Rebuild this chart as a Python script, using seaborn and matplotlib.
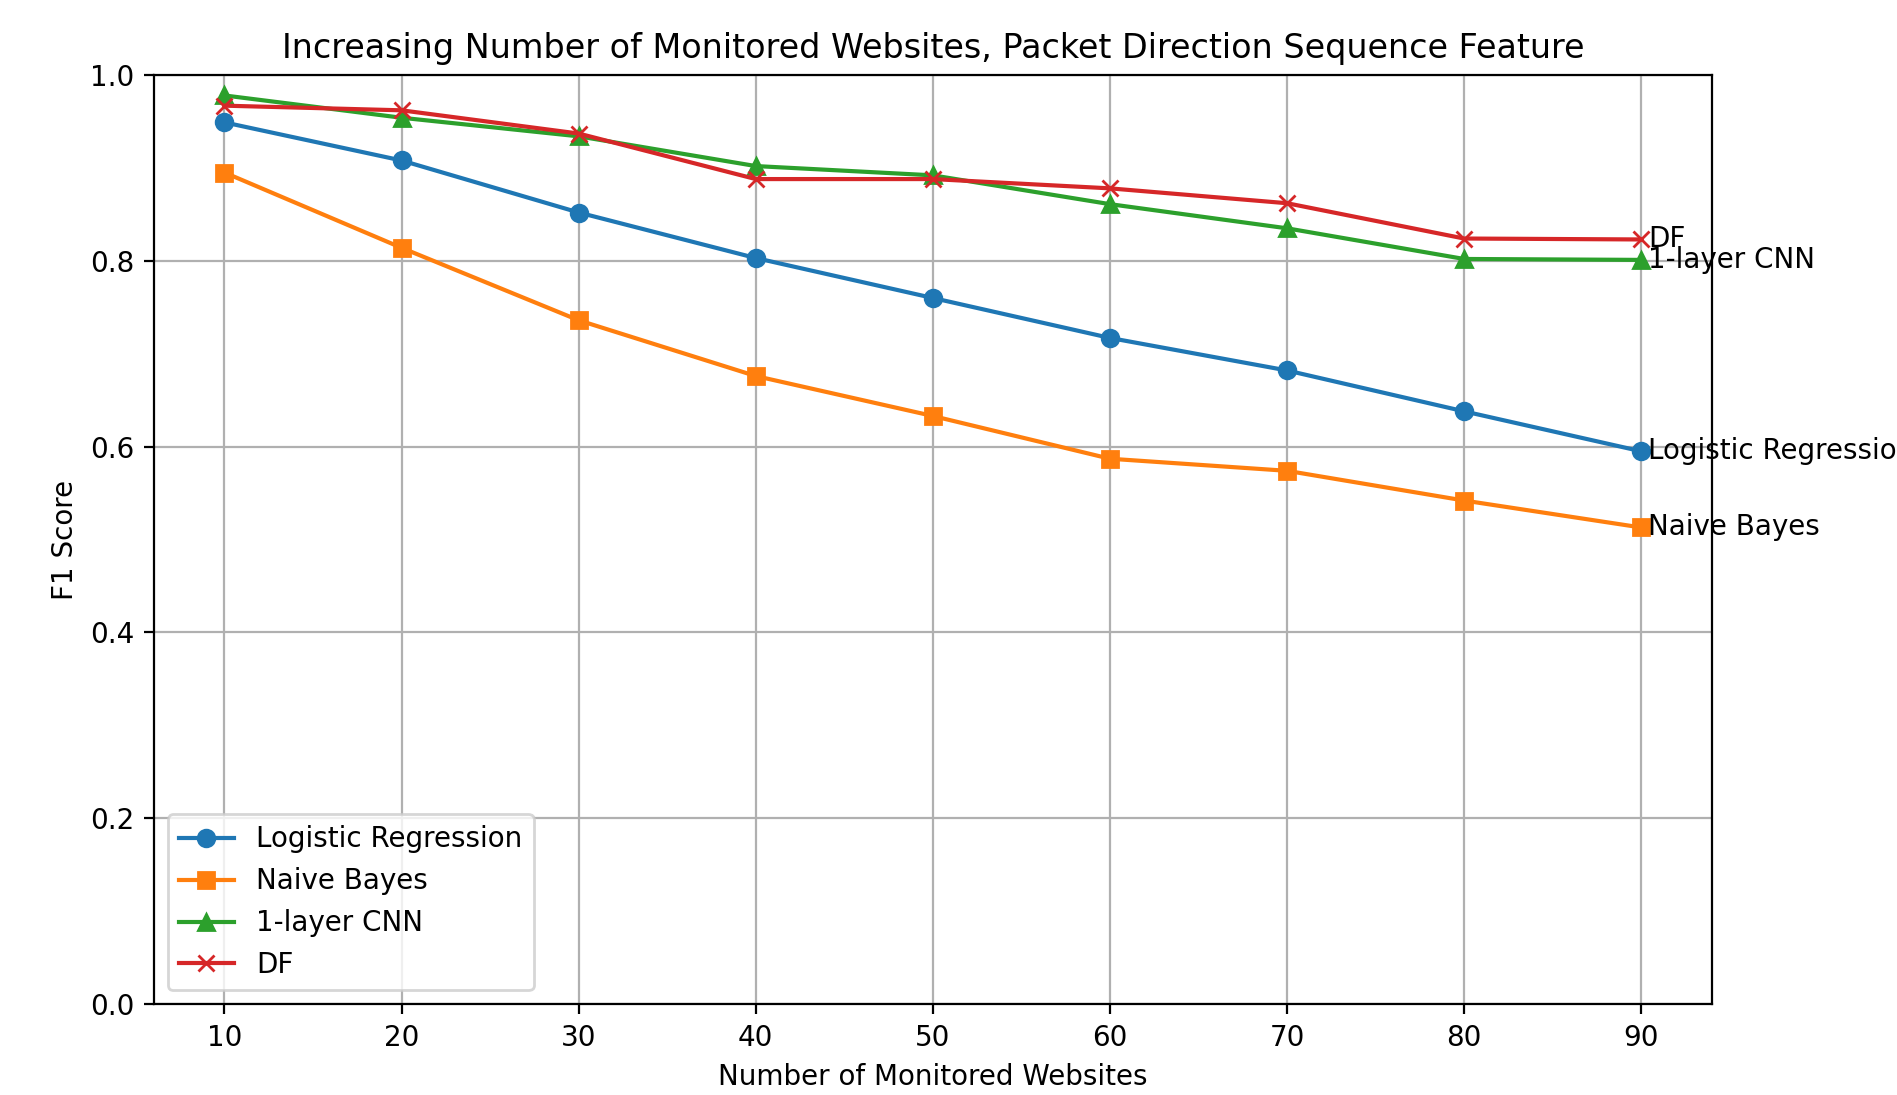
import matplotlib
matplotlib.use("Agg")
import matplotlib.pyplot as plt
import seaborn as sns
import pandas as pd

websites = [10, 20, 30, 40, 50, 60, 70, 80, 90]
logistic_regression = [0.949, 0.908, 0.852, 0.803, 0.760, 0.717, 0.682, 0.638, 0.595]
naive_bayes = [0.895, 0.814, 0.736, 0.676, 0.633, 0.587, 0.574, 0.542, 0.513]
cnn_1layer = [0.978, 0.954, 0.934, 0.902, 0.892, 0.861, 0.835, 0.802, 0.801]
deep_fingerprinting = [0.967, 0.962, 0.937, 0.888, 0.888, 0.878, 0.862, 0.824, 0.823]

series_names = ["Logistic Regression", "Naive Bayes", "1-layer CNN", "DF"]
series_values = [logistic_regression, naive_bayes, cnn_1layer, deep_fingerprinting]
markers = ["o", "s", "^", "x"]
colors = ["#1f77b4", "#ff7f0e", "#2ca02c", "#d62728"]

plt.rcParams["font.family"] = ["DejaVu Sans"]

DPI = 200
fig = plt.figure(figsize=(1897 / DPI, 1095 / DPI), dpi=DPI)
ax = fig.add_axes([0.081, 0.083, 0.9025 - 0.081, 0.9315 - 0.083])

for name, vals, m, c in zip(series_names, series_values, markers, colors):
    df = pd.DataFrame({"x": websites, "y": vals})
    sns.lineplot(data=df, x="x", y="y", ax=ax, marker=m, color=c, label=name,
                 markersize=6, markeredgecolor=c, markeredgewidth=1.0, linewidth=1.5)
    ax.text(websites[-1] + 0.4, vals[-1], name, va="center", ha="left", fontsize=10)

ax.set_ylim(0, 1.0)
ax.set_xticks(websites)
ax.grid(True)
ax.set_title("Increasing Number of Monitored Websites, Packet Direction Sequence Feature", fontsize=12)
ax.set_xlabel("Number of Monitored Websites")
ax.set_ylabel("F1 Score")
ax.legend(loc="lower left")

fig.savefig("out.png", dpi=DPI)
